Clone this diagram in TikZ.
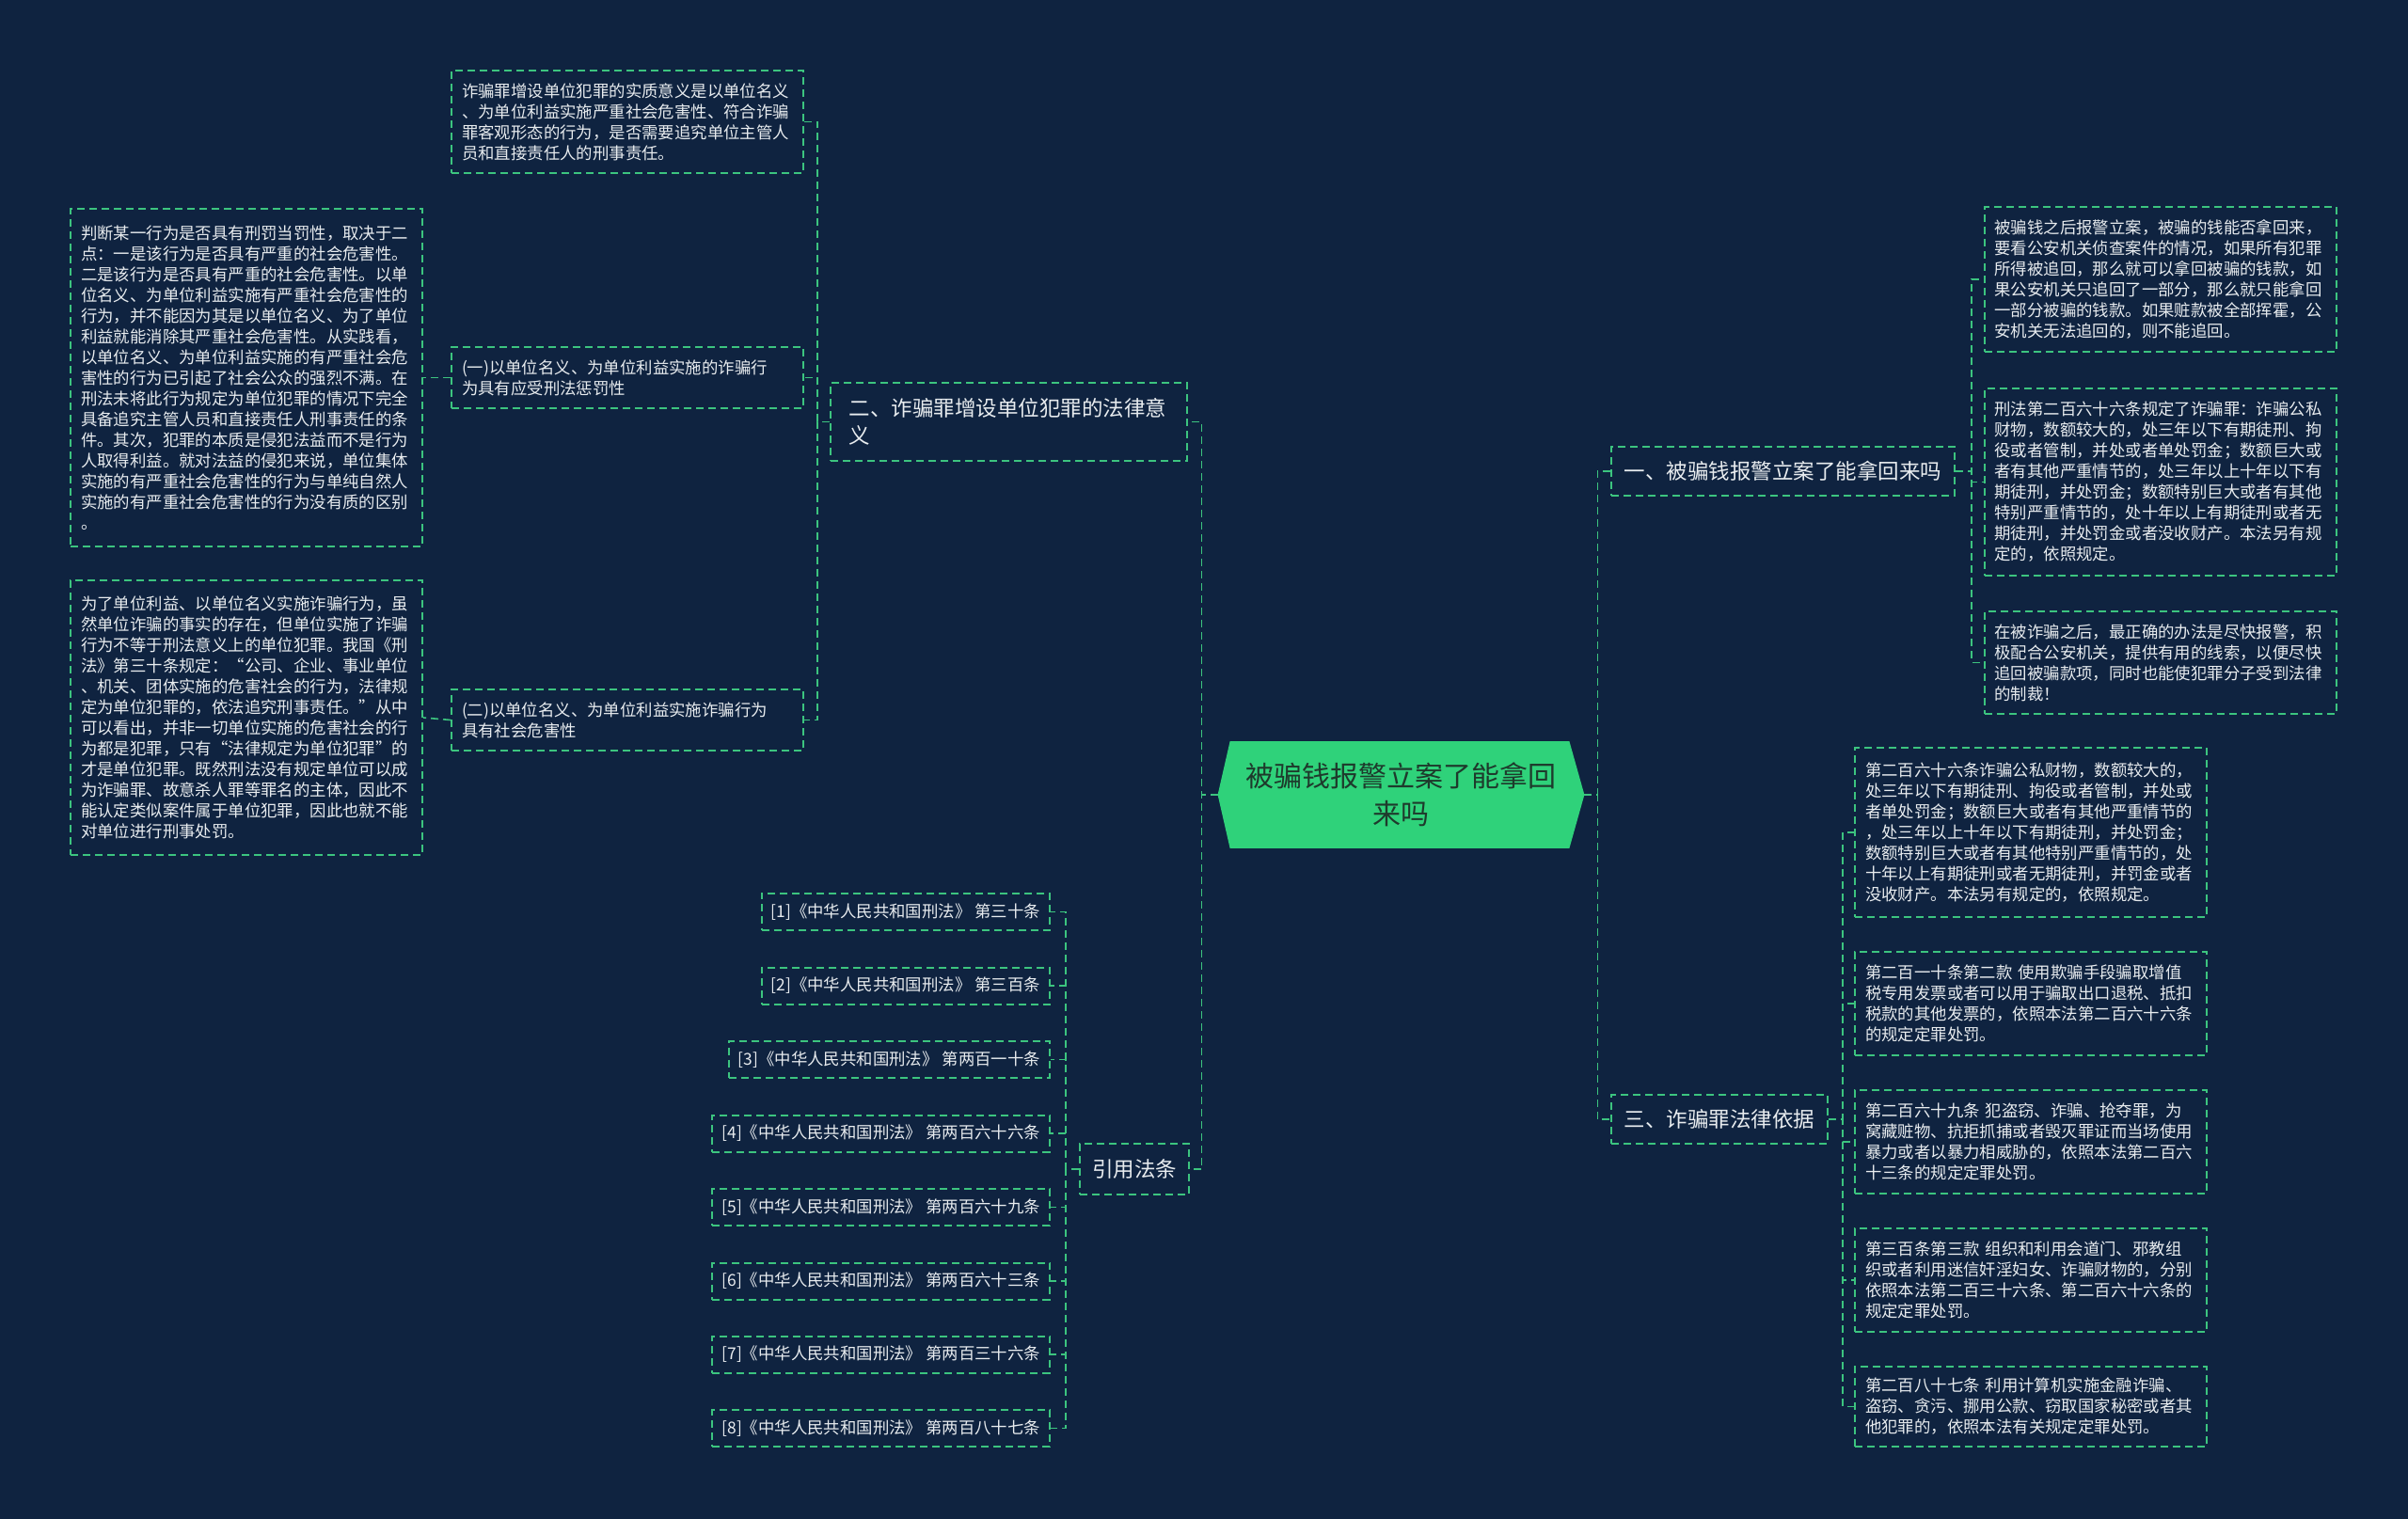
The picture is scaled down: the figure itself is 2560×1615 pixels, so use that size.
\documentclass[tikz,border=0pt]{standalone}
\usepackage{fontspec}
\setmainfont{Noto Sans CJK SC}
\usetikzlibrary{backgrounds}
\definecolor{bg}{HTML}{0F2340}
\definecolor{lg}{HTML}{3CC47F}
\definecolor{tx}{HTML}{E8ECEF}
\definecolor{rootfill}{HTML}{2FD27A}
\definecolor{roottx}{HTML}{1E3A2C}
\begin{document}
\begin{tikzpicture}[x=0.5pt,y=-0.5pt,
  dsh/.style={dash pattern=on 4pt off 2.5pt},
  txtbox/.style={draw=lg, dsh, line width=1pt, text=tx, font=\fontsize{8.7}{11}\selectfont, align=left, text width=176pt, inner xsep=5.5pt, inner ysep=0pt},
  branch/.style={draw=lg, dsh, line width=1pt, text=tx, font=\fontsize{11.25}{14.5}\selectfont, align=left, inner sep=0pt},
  cite/.style={draw=lg, dsh, line width=1pt, text=tx, font=\fontsize{8.7}{11}\selectfont, inner xsep=5pt, inner ysep=0pt, minimum height=19.5pt, anchor=east},
  conn/.style={draw=lg, dsh, line width=0.8pt}]
\useasboundingbox (0,0) rectangle (2560,1615);

% root
\node[minimum width=194.5pt, minimum height=56.5pt, text width=170pt, align=center, inner sep=0pt, text=roottx, font=\fontsize{15}{20}\selectfont] (root) at (1489.5,845) {被骗钱报警立案了能拿回\\来吗};

% level 1
\node[branch, minimum width=189.5pt, minimum height=41.5pt, text width=170pt] (er) at (1072.5,448.5) {二、诈骗罪增设单位犯罪的法律意\\义};
\node[branch, minimum width=58pt, minimum height=27pt] (yin) at (1206,1243) {引用法条};
\node[branch, minimum width=182.5pt, minimum height=26pt] (yi) at (1895.5,501) {一、被骗钱报警立案了能拿回来吗};
\node[branch, minimum width=115pt, minimum height=26pt] (san) at (1828,1190) {三、诈骗罪法律依据};

% left subtree
\node[txtbox, minimum height=54.5pt] (a1) at (667,129.5) {诈骗罪增设单位犯罪的实质意义是以单位名义\\、为单位利益实施严重社会危害性、符合诈骗\\罪客观形态的行为，是否需要追究单位主管人\\员和直接责任人的刑事责任。};
\node[txtbox, minimum height=32.5pt] (one) at (667,401.5) {(一)以单位名义、为单位利益实施的诈骗行\\为具有应受刑法惩罚性};
\node[txtbox, minimum height=32.5pt] (two) at (667,765.5) {(二)以单位名义、为单位利益实施诈骗行为\\具有社会危害性};
\node[txtbox, minimum height=179.5pt] (pd) at (262,401.5) {判断某一行为是否具有刑罚当罚性，取决于二\\点：一是该行为是否具有严重的社会危害性。\\二是该行为是否具有严重的社会危害性。以单\\位名义、为单位利益实施有严重社会危害性的\\行为，并不能因为其是以单位名义、为了单位\\利益就能消除其严重社会危害性。从实践看，\\以单位名义、为单位利益实施的有严重社会危\\害性的行为已引起了社会公众的强烈不满。在\\刑法未将此行为规定为单位犯罪的情况下完全\\具备追究主管人员和直接责任人刑事责任的条\\件。其次，犯罪的本质是侵犯法益而不是行为\\人取得利益。就对法益的侵犯来说，单位集体\\实施的有严重社会危害性的行为与单纯自然人\\实施的有严重社会危害性的行为没有质的区别\\。};
\node[txtbox, minimum height=146pt] (wl) at (262,763) {为了单位利益、以单位名义实施诈骗行为，虽\\然单位诈骗的事实的存在，但单位实施了诈骗\\行为不等于刑法意义上的单位犯罪。我国《刑\\法》第三十条规定：“公司、企业、事业单位\\、机关、团体实施的危害社会的行为，法律规\\定为单位犯罪的，依法追究刑事责任。”从中\\可以看出，并非一切单位实施的危害社会的行\\为都是犯罪，只有“法律规定为单位犯罪”的\\才是单位犯罪。既然刑法没有规定单位可以成\\为诈骗罪、故意杀人罪等罪名的主体，因此不\\能认定类似案件属于单位犯罪，因此也就不能\\对单位进行刑事处罚。};

% right subtree 1
\node[txtbox, minimum height=77pt] (r1) at (2296.5,297) {被骗钱之后报警立案，被骗的钱能否拿回来，\\要看公安机关侦查案件的情况，如果所有犯罪\\所得被追回，那么就可以拿回被骗的钱款，如\\果公安机关只追回了一部分，那么就只能拿回\\一部分被骗的钱款。如果赃款被全部挥霍，公\\安机关无法追回的，则不能追回。};
\node[txtbox, minimum height=99.5pt] (r2) at (2296.5,512.5) {刑法第二百六十六条规定了诈骗罪：诈骗公私\\财物，数额较大的，处三年以下有期徒刑、拘\\役或者管制，并处或者单处罚金；数额巨大或\\者有其他严重情节的，处三年以上十年以下有\\期徒刑，并处罚金；数额特别巨大或者有其他\\特别严重情节的，处十年以上有期徒刑或者无\\期徒刑，并处罚金或者没收财产。本法另有规\\定的，依照规定。};
\node[txtbox, minimum height=54.5pt] (r3) at (2296.5,704.5) {在被诈骗之后，最正确的办法是尽快报警，积\\极配合公安机关，提供有用的线索，以便尽快\\追回被骗款项，同时也能使犯罪分子受到法律\\的制裁！};

% right subtree 3
\node[txtbox, minimum height=90pt] (s1) at (2159,885) {第二百六十六条诈骗公私财物，数额较大的，\\处三年以下有期徒刑、拘役或者管制，并处或\\者单处罚金；数额巨大或者有其他严重情节的\\，处三年以上十年以下有期徒刑，并处罚金；\\数额特别巨大或者有其他特别严重情节的，处\\十年以上有期徒刑或者无期徒刑，并罚金或者\\没收财产。本法另有规定的，依照规定。};
\node[txtbox, minimum height=55pt] (s2) at (2159,1067) {第二百一十条第二款 使用欺骗手段骗取增值\\税专用发票或者可以用于骗取出口退税、抵扣\\税款的其他发票的，依照本法第二百六十六条\\的规定定罪处罚。};
\node[txtbox, minimum height=55pt] (s3) at (2159,1214) {第二百六十九条 犯盗窃、诈骗、抢夺罪，为\\窝藏赃物、抗拒抓捕或者毁灭罪证而当场使用\\暴力或者以暴力相威胁的，依照本法第二百六\\十三条的规定定罪处罚。};
\node[txtbox, minimum height=55pt] (s4) at (2159,1361) {第三百条第三款 组织和利用会道门、邪教组\\织或者利用迷信奸淫妇女、诈骗财物的，分别\\依照本法第二百三十六条、第二百六十六条的\\规定定罪处罚。};
\node[txtbox, minimum height=42.5pt] (s5) at (2159,1495.5) {第二百八十七条 利用计算机实施金融诈骗、\\盗窃、贪污、挪用公款、窃取国家秘密或者其\\他犯罪的，依照本法有关规定定罪处罚。};

% citations
\node[cite] (c1) at (1117,969.5) {[1]《中华人民共和国刑法》 第三十条};
\node[cite] (c2) at (1117,1048) {[2]《中华人民共和国刑法》 第三百条};
\node[cite] (c3) at (1117,1126.5) {[3]《中华人民共和国刑法》 第两百一十条};
\node[cite] (c4) at (1117,1205) {[4]《中华人民共和国刑法》 第两百六十六条};
\node[cite] (c5) at (1117,1283.5) {[5]《中华人民共和国刑法》 第两百六十九条};
\node[cite] (c6) at (1117,1362) {[6]《中华人民共和国刑法》 第两百六十三条};
\node[cite] (c7) at (1117,1440) {[7]《中华人民共和国刑法》 第两百三十六条};
\node[cite] (c8) at (1117,1518.5) {[8]《中华人民共和国刑法》 第两百八十七条};

% connectors
\draw[conn] (root.west) -- ++(-17,0) |- (er.east);
\draw[conn] (root.west) -- ++(-17,0) |- (yin.east);
\draw[conn] (root.east) -- ++(14,0) |- (yi.west);
\draw[conn] (root.east) -- ++(14,0) |- (san.west);
\foreach \n in {a1,one,two} \draw[conn] (er.west) -- ++(-13,0) |- (\n.east);
\draw[conn] (one.west) -- (pd.east);
\draw[conn] (two.west) -- (wl.east);
\foreach \n in {r1,r2,r3} \draw[conn] (yi.east) -- ++(17,0) |- (\n.west);
\foreach \n in {s1,s2,s3,s4,s5} \draw[conn] (san.east) -- ++(15,0) |- (\n.west);
\foreach \n in {c1,c2,c3,c4,c5,c6,c7,c8} \draw[conn] (yin.west) -- ++(-14,0) |- (\n.east);

\begin{scope}[on background layer]
\fill[bg] (0,0) rectangle (2560,1615);
\fill[rootfill] (root.west) -- ([xshift=6.5pt]root.north west) -- ([xshift=-8pt]root.north east) -- (root.east) -- ([xshift=-8pt]root.south east) -- ([xshift=6.5pt]root.south west) -- cycle;
\end{scope}
\end{tikzpicture}
\end{document}
